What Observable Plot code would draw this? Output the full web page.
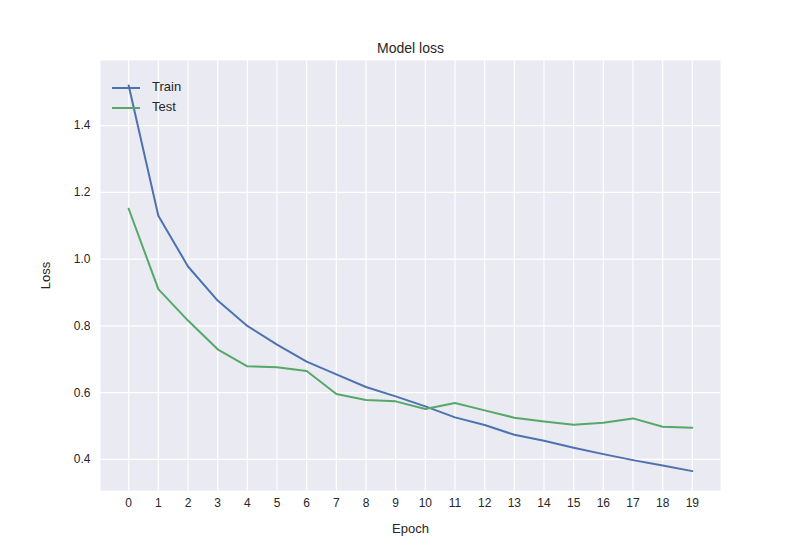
<!DOCTYPE html>
<html><head><meta charset="utf-8">
<script src="https://cdn.jsdelivr.net/npm/d3@7"></script>
<script src="https://cdn.jsdelivr.net/npm/@observablehq/plot@0.6"></script>
<style>
body{margin:0;background:#fff;font-family:"Liberation Sans",Arial,sans-serif;}
#chart{position:relative;width:800px;height:550px;}
#legend{position:absolute;left:112px;top:77px;font-size:13px;color:#262626;line-height:20px;}
#legend span.sw{display:inline-block;width:28px;height:2px;vertical-align:middle;margin-right:12px;}
</style></head>
<body><div id="chart"><div id="legend"></div></div>
<script>
const epochs = d3.range(0, 20);
const train = [1.52,1.13,0.978,0.876,0.80,0.744,0.693,0.655,0.617,0.589,0.559,0.526,0.503,0.474,0.456,0.435,0.416,0.398,0.382,0.365];
const test  = [1.151,0.91,0.816,0.73,0.679,0.676,0.665,0.596,0.578,0.574,0.551,0.569,0.547,0.525,0.514,0.504,0.51,0.523,0.498,0.495];
const series = [{name:"Train",color:"#4C72B0",vals:train},{name:"Test",color:"#55A868",vals:test}];
const yTicks = [0.4,0.6,0.8,1.0,1.2,1.4];

const rows = series.flatMap(s => s.vals.map((v,i)=>({epoch:epochs[i],loss:v,name:s.name})));

const plot = Plot.plot({
  width: 800, height: 550,
  marginTop: 60, marginBottom: 60, marginLeft: 100, marginRight: 80,
  style: {fontFamily:"Liberation Sans, Arial, sans-serif", fontSize:"12px", color:"#262626", background:"transparent"},
  x: {domain:[-0.95,19.95], ticks: epochs, tickFormat: d=>d, label:"Epoch", labelAnchor:"center", labelArrow:"none", labelOffset:42, tickSize:0, tickPadding:8},
  y: {domain:[0.307,1.595], ticks: yTicks, tickFormat: d3.format(".1f"), label:"Loss", labelAnchor:"center", labelArrow:"none", labelOffset:60, tickSize:0, tickPadding:10},
  color: {domain: series.map(s=>s.name), range: series.map(s=>s.color)},
  marks: [
    Plot.frame({fill:"#EAEAF2", stroke:null}),
    Plot.gridX(epochs, {stroke:"white", strokeOpacity:1, strokeWidth:1.2}),
    Plot.gridY(yTicks, {stroke:"white", strokeOpacity:1, strokeWidth:1.2}),
    Plot.line(rows, {x:"epoch", y:"loss", stroke:"name", strokeWidth:2}),
    Plot.text(["Model loss"], {frameAnchor:"top", dy:-8, lineAnchor:"bottom", fontSize:14, fill:"#262626"})
  ]
});
plot.querySelectorAll('[aria-label="x-axis label"] text, [aria-label="y-axis label"] text').forEach(t=>t.setAttribute("font-size","13px"));
document.getElementById("chart").prepend(plot);
document.getElementById("legend").innerHTML = series.map(s=>`<div><span class="sw" style="background:${s.color}"></span>${s.name}</div>`).join("");
</script></body></html>
